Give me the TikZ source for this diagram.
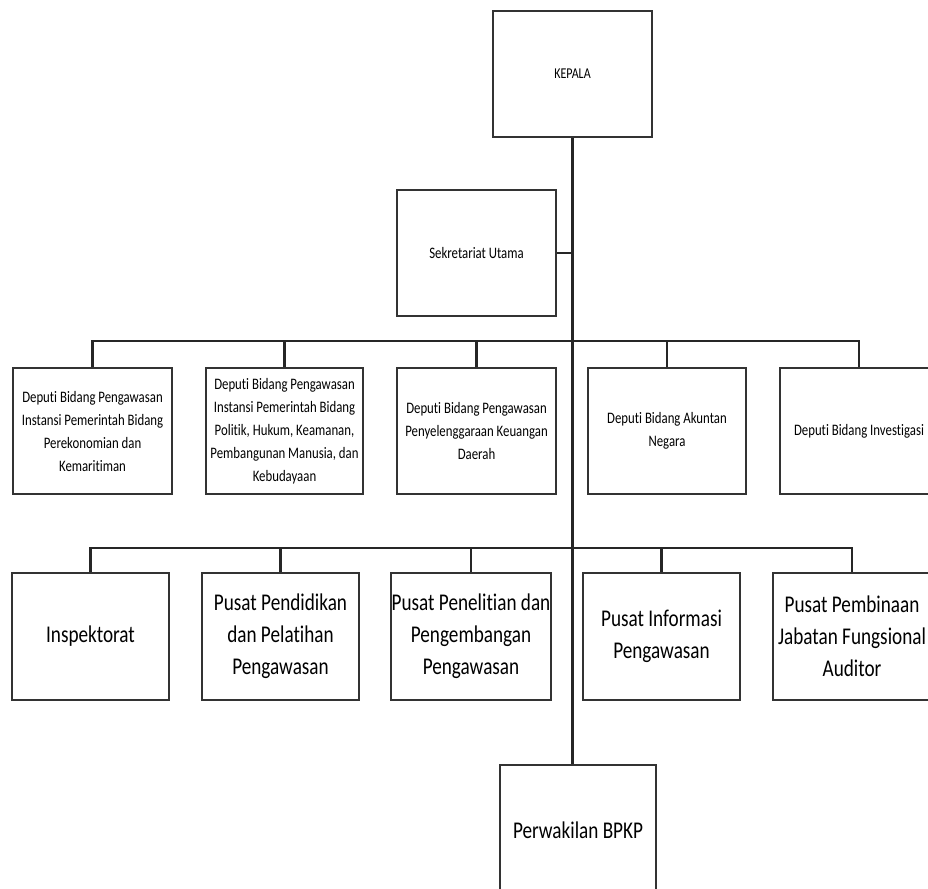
\documentclass[tikz,border=0pt]{standalone}
\usepackage{fontspec}
\setmainfont[FakeStretch=0.8,Ligatures=NoCommon]{Carlito}
\begin{document}
\begin{tikzpicture}[x=1pt,y=-1pt,
  box/.style={draw=black!80, line width=1.9pt, fill=white, align=center, inner sep=1pt, text=black},
  sm/.style={font=\fontsize{16}{23}\selectfont},
  bg/.style={font=\fontsize{24}{32}\selectfont},
  ln/.style={draw=black!85, line width=2.05pt}]
\useasboundingbox (0,0) rectangle (928,888);
\clip (0,0) rectangle (928,888);
\fill[white] (0,0) rectangle (928,888);
% coordinates of bars
\coordinate (b1) at (0,341);
\coordinate (b2) at (0,548);
% top
\node[box, font=\fontsize{15}{18}\selectfont, minimum width=159pt, minimum height=126pt] (kepala) at (572.5,74) {KEPALA};
\node[box, sm, minimum width=159pt, minimum height=126pt] (sekr) at (476.5,253) {Sekretariat Utama};
% deputy row
\node[box, sm, minimum width=159pt, minimum height=126pt] (d1) at (92.5,431) {Deputi Bidang Pengawasan\\Instansi Pemerintah Bidang\\Perekonomian dan\\Kemaritiman};
\node[box, sm, minimum width=157pt, minimum height=126pt] (d2) at (284.5,431) {Deputi Bidang Pengawasan\\Instansi Pemerintah Bidang\\Politik, Hukum, Keamanan,\\Pembangunan Manusia, dan\\Kebudayaan};
\node[box, sm, minimum width=159pt, minimum height=126pt] (d3) at (476.5,431) {Deputi Bidang Pengawasan\\Penyelenggaraan Keuangan\\Daerah};
\node[box, sm, minimum width=158pt, minimum height=126pt] (d4) at (667,431) {Deputi Bidang Akuntan\\Negara};
\node[box, sm, minimum width=158pt, minimum height=126pt] (d5) at (859,431) {Deputi Bidang Investigasi};
% pusat row
\node[box, bg, minimum width=157pt, minimum height=127pt] (p1) at (90.5,636.5) {Inspektorat};
\node[box, bg, minimum width=157pt, minimum height=127pt] (p2) at (280.5,636.5) {Pusat Pendidikan\\dan Pelatihan\\Pengawasan};
\node[box, bg, minimum width=156pt, minimum height=127pt] (p3) at (471,636.5) {Pusat Penelitian dan\\Pengembangan\\Pengawasan};
\node[box, bg, minimum width=157pt, minimum height=127pt] (p4) at (661.5,636.5) {Pusat Informasi\\Pengawasan};
\node[box, bg, minimum width=158pt, minimum height=127pt] (p5) at (852,636.5) {Pusat Pembinaan\\Jabatan Fungsional\\Auditor};
% perwakilan
\node[box, bg, minimum width=156pt, minimum height=130pt] (pw) at (578,830) {Perwakilan BPKP};
% connectors
\draw[ln] (kepala.south) -- (kepala.south |- pw.north);
\draw[ln] (sekr.east) -- (kepala.south |- sekr.east);
\draw[ln] (d1.north) -- (d1.north |- b1) -- (d5.north |- b1) -- (d5.north);
\draw[ln] (d2.north) -- (d2.north |- b1);
\draw[ln] (d3.north) -- (d3.north |- b1);
\draw[ln] (d4.north) -- (d4.north |- b1);
\draw[ln] (p1.north) -- (p1.north |- b2) -- (p5.north |- b2) -- (p5.north);
\draw[ln] (p2.north) -- (p2.north |- b2);
\draw[ln] (p3.north) -- (p3.north |- b2);
\draw[ln] (p4.north) -- (p4.north |- b2);
\end{tikzpicture}
\end{document}
